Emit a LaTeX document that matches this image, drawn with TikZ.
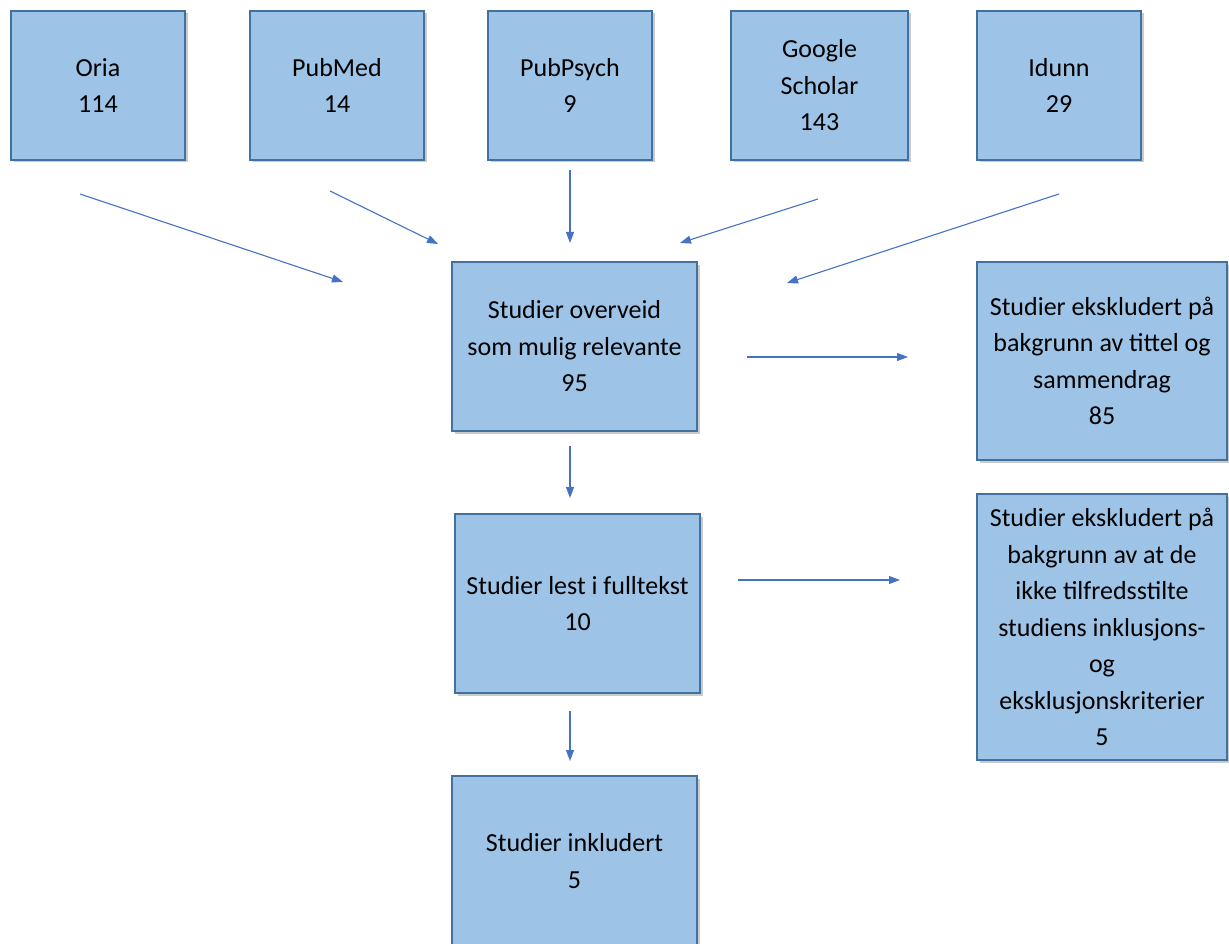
\documentclass[tikz,border=0pt]{standalone}
\usepackage{fontspec}
\setmainfont{Carlito}
\usetikzlibrary{arrows.meta,shadows}
\definecolor{boxfill}{HTML}{9DC3E6}
\definecolor{boxline}{HTML}{41719C}
\definecolor{arrowblue}{HTML}{4472C4}
\begin{document}
\begin{tikzpicture}[x=1pt,y=-1pt,
  box/.style={draw=boxline, line width=1.3pt, fill=boxfill, inner sep=0pt, align=center,
    font=\fontsize{26}{36.5}\selectfont,
    drop shadow={shadow xshift=2.5pt, shadow yshift=-2.5pt, opacity=0.35, fill=black!60}},
  flow/.style={draw=arrowblue, line width=1.1pt, -{Triangle[length=11pt,width=8pt]}}]
\useasboundingbox (0,0) rectangle (1229,944);
\node[box, minimum width=174pt, minimum height=149pt] (oria) at (98,85.5) {Oria\\114};
\node[box, minimum width=174pt, minimum height=149pt] (pubmed) at (337,85.5) {PubMed\\14};
\node[box, minimum width=164pt, minimum height=149pt] (pubpsych) at (570,85.5) {PubPsych\\9};
\node[box, minimum width=177pt, minimum height=149pt] (google) at (819.5,85.5) {Google\\Scholar\\143};
\node[box, minimum width=164pt, minimum height=149pt] (idunn) at (1059,85.5) {Idunn\\29};
\node[box, minimum width=245pt, minimum height=169pt] (overveid) at (574.5,346.5) {Studier overveid\\som mulig relevante\\95};
\node[box, minimum width=250pt, minimum height=198pt] (excl1) at (1102,361) {Studier ekskludert på\\bakgrunn av tittel og\\sammendrag\\85};
\node[box, minimum width=245pt, minimum height=179pt] (lest) at (577.5,603.5) {Studier lest i fulltekst\\10};
\node[box, minimum width=250pt, minimum height=266pt] (excl2) at (1102,627) {Studier ekskludert på\\bakgrunn av at de\\ikke tilfredsstilte\\studiens inklusjons-\\og\\eksklusjonskriterier\\5};
\node[box, minimum width=245pt, minimum height=170pt] (inkl) at (574.5,861) {Studier inkludert\\5};
% free arrow end points
\coordinate (a1s) at (80,194);   \coordinate (a1e) at (343,282);
\coordinate (a2s) at (330,191);  \coordinate (a2e) at (438,244);
\coordinate (a3s) at (570,170);  \coordinate (a3e) at (570,243);
\coordinate (a4s) at (818,199);  \coordinate (a4e) at (680,243);
\coordinate (a5s) at (1059,194); \coordinate (a5e) at (787,283);
\coordinate (r1s) at (747,357);  \coordinate (r1e) at (908,357);
\coordinate (d1s) at (570,446);  \coordinate (d1e) at (570,498);
\coordinate (r2s) at (738,580);  \coordinate (r2e) at (900,580);
\coordinate (d2s) at (570,711);  \coordinate (d2e) at (570,761);
\draw[flow] (a1s) -- (a1e);
\draw[flow] (a2s) -- (a2e);
\draw[flow] (a3s) -- (a3e);
\draw[flow] (a4s) -- (a4e);
\draw[flow] (a5s) -- (a5e);
\draw[flow] (r1s) -- (r1e);
\draw[flow] (d1s) -- (d1e);
\draw[flow] (r2s) -- (r2e);
\draw[flow] (d2s) -- (d2e);
\end{tikzpicture}
\end{document}
